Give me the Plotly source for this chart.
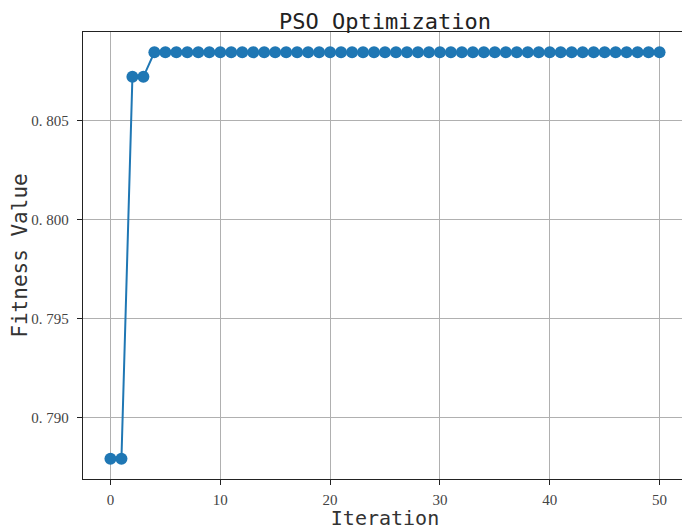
import plotly.graph_objects as go

iterations = list(range(0, 51))
fitness = [
    0.78792, 0.78792, 0.80723, 0.80723, 0.80847, 0.80847, 0.80847, 0.80847, 0.80847, 0.80847,
    0.80847, 0.80847, 0.80847, 0.80847, 0.80847, 0.80847, 0.80847, 0.80847, 0.80847, 0.80847,
    0.80847, 0.80847, 0.80847, 0.80847, 0.80847, 0.80847, 0.80847, 0.80847, 0.80847, 0.80847,
    0.80847, 0.80847, 0.80847, 0.80847, 0.80847, 0.80847, 0.80847, 0.80847, 0.80847, 0.80847,
    0.80847, 0.80847, 0.80847, 0.80847, 0.80847, 0.80847, 0.80847, 0.80847, 0.80847, 0.80847,
    0.80847,
]
x_tickvals = [0, 10, 20, 30, 40, 50]
x_ticktext = ["0", "10", "20", "30", "40", "50"]
y_tickvals = [0.790, 0.795, 0.800, 0.805]
y_ticktext = ["0. 790", "0. 795", "0. 800", "0. 805"]

title_text = "PSO Optimization"
x_label = "Iteration"
y_label = "Fitness Value"

# matplotlib-like 5% margins
xmin, xmax = min(iterations), max(iterations)
ymin, ymax = min(fitness), max(fitness)
xpad = (xmax - xmin) * 0.05
ypad = (ymax - ymin) * 0.05

# page has an 8px body margin, so the figure is shrunk to fit the window
W, H = 682, 522
L, R, T, B = 75, 3, 24, 51

fig = go.Figure()
fig.add_trace(go.Scatter(
    x=iterations, y=fitness, mode="lines+markers",
    line=dict(color="#1f77b4", width=2),
    marker=dict(color="#1f77b4", size=12, line=dict(width=0)),
    showlegend=False,
))

mono = "DejaVu Sans Mono"
serif = "Liberation Serif"

fig.update_layout(
    width=W, height=H,
    margin=dict(l=L, r=R, t=T, b=B, pad=0),
    paper_bgcolor="white", plot_bgcolor="white",
    title=dict(text=title_text, font=dict(family=mono, size=22, color="#222"),
               x=(L + (W - L - R) / 2) / W, xanchor="center",
               y=1 - 13 / H, yanchor="middle", yref="container"),
    xaxis=dict(
        range=[xmin - xpad, xmax + xpad], tickvals=x_tickvals, ticktext=x_ticktext,
        showgrid=True, gridcolor="#b0b0b0", gridwidth=1,
        showline=True, linecolor="#222", linewidth=1.3, mirror=True,
        ticks="outside", ticklen=5, tickwidth=1.2, tickcolor="#222",
        tickfont=dict(family=serif, size=15, color="#444"), ticklabelstandoff=2,
        title=dict(text=x_label, font=dict(family=mono, size=20, color="#333"), standoff=3),
        zeroline=False, automargin=False,
    ),
    yaxis=dict(
        range=[ymin - ypad, ymax + ypad], tickvals=y_tickvals, ticktext=y_ticktext,
        showgrid=True, gridcolor="#b0b0b0", gridwidth=1,
        showline=True, linecolor="#222", linewidth=1.3, mirror=True,
        ticks="outside", ticklen=5, tickwidth=1.2, tickcolor="#222",
        tickfont=dict(family=serif, size=15, color="#444"), ticklabelstandoff=5,
        title=dict(text=y_label, font=dict(family=mono, size=21, color="#333"), standoff=12),
        zeroline=False, automargin=False,
    ),
)

fig.write_html("out.html")
